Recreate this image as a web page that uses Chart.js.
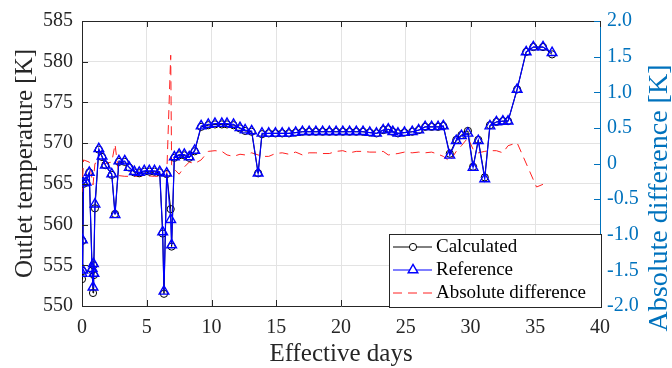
<!DOCTYPE html>
<html>
<head>
<meta charset="utf-8">
<script src="https://cdn.jsdelivr.net/npm/chart.js@4"></script>
<style>
  body { margin: 0; background: #fff; }
</style>
</head>
<body>
<canvas id="myChart" width="672" height="368"></canvas>
<script>
// outlet temperature, calculated vs reference, plus their difference
const days = [0, 0.03, 0.06, 0.12, 0.32, 0.56, 0.78, 0.85, 0.88, 0.92, 1.0, 1.3, 1.55, 1.8, 2.3, 2.55, 2.85, 3.3, 3.65, 4.04,
  4.42, 4.81, 5.2, 5.6, 6.0, 6.23, 6.33, 6.54, 6.85, 6.92, 7.13, 7.5, 7.9, 8.28, 8.7, 9.2, 9.75, 10.27, 10.8, 11.2,
  11.7, 12.2, 12.6, 13.1, 13.6, 13.9, 14.42, 14.94, 15.46, 15.98, 16.5, 17.02, 17.54, 18.06, 18.58, 19.1, 19.62, 20.14, 20.66, 21.18,
  21.7, 22.22, 22.74, 23.26, 23.65, 24.0, 24.4, 24.9, 25.5, 26.0, 26.5, 27.0, 27.5, 27.9, 28.4, 28.9, 29.3, 29.8, 30.2, 30.6,
  31.1, 31.5, 32.0, 32.5, 32.9, 33.6, 34.3, 34.85, 35.6, 36.3];

const calculated = [553.3, 558.0, 554.3, 565.0, 565.2, 566.4, 554.4, 551.6, 555.0, 553.8, 562.0, 569.2, 568.3, 567.3, 566.1, 561.3, 567.7, 567.7, 567.0, 566.4,
  566.3, 566.5, 566.5, 566.5, 566.4, 558.9, 551.5, 566.2, 561.9, 557.3, 568.2, 568.5, 568.5, 568.2, 569.0, 572.0, 572.2, 572.3, 572.3, 572.3,
  572.2, 571.8, 571.5, 571.4, 566.3, 571.1, 571.2, 571.2, 571.2, 571.2, 571.3, 571.4, 571.4, 571.4, 571.4, 571.4, 571.4, 571.4, 571.4, 571.4,
  571.4, 571.3, 571.2, 571.6, 571.7, 571.4, 571.2, 571.3, 571.4, 571.6, 572.0, 572.0, 572.0, 572.1, 568.7, 570.4, 571.0, 571.5, 567.1, 570.4,
  565.8, 572.2, 572.6, 572.7, 572.7, 576.6, 581.2, 581.8, 581.8, 580.9];

const reference = [554.0, 558.1, 554.4, 565.1, 565.2, 566.4, 554.6, 552.3, 555.2, 554.0, 562.5, 569.3, 568.4, 567.3, 566.2, 561.2, 567.8, 567.8, 567.0, 566.5,
  566.4, 566.6, 566.6, 566.6, 566.5, 559.1, 551.8, 566.3, 560.6, 557.5, 568.3, 568.6, 568.6, 568.3, 569.1, 572.1, 572.3, 572.4, 572.4, 572.4,
  572.3, 571.9, 571.6, 571.5, 566.3, 571.2, 571.2, 571.2, 571.2, 571.2, 571.3, 571.4, 571.4, 571.4, 571.4, 571.4, 571.4, 571.4, 571.4, 571.4,
  571.4, 571.3, 571.2, 571.6, 571.7, 571.4, 571.2, 571.3, 571.4, 571.6, 572.0, 572.0, 572.0, 572.1, 568.5, 570.3, 570.9, 571.2, 567.0, 570.3,
  565.6, 572.1, 572.6, 572.7, 572.7, 576.6, 581.2, 581.8, 581.8, 581.1];

const diffDays = [0, 0.12, 0.56, 0.85, 1.0, 1.3, 1.8, 2.3, 2.55, 2.85, 3.3, 4.04, 4.81, 5.6, 6.0, 6.54, 6.85, 6.92, 7.13, 7.5,
  7.9, 8.28, 8.7, 9.2, 9.75, 10.27, 10.8, 11.2, 11.7, 12.2, 12.6, 13.1, 13.6, 13.9, 14.42, 14.94, 15.46, 15.98, 16.5, 17.02,
  17.54, 18.06, 18.58, 19.1, 19.62, 20.14, 20.66, 21.18, 21.7, 22.22, 22.74, 23.26, 23.65, 24.0, 24.4, 24.9, 25.5, 26.0, 26.5, 27.0,
  27.5, 27.9, 28.4, 28.9, 29.3, 29.8, 30.2, 30.6, 31.1, 31.5, 32.0, 32.5, 32.9, 33.6, 35.1, 35.9];

const difference = [-0.4, 0.05, 0.02, -0.3, 0.0, 0.02, 0.0, 0.02, 0.27, -0.17, -0.18, -0.18, -0.17, -0.18, -0.18, -0.18, 1.52, -0.02, -0.08, -0.15,
  -0.05, 0.02, 0.0, 0.05, 0.17, 0.18, 0.17, 0.12, 0.1, 0.13, 0.12, 0.15, 0.12, 0.1, 0.1, 0.14, 0.15, 0.13, 0.16, 0.12,
  0.15, 0.15, 0.14, 0.14, 0.17, 0.18, 0.15, 0.17, 0.17, 0.16, 0.16, 0.17, 0.12, 0.13, 0.14, 0.16, 0.15, 0.16, 0.15, 0.16,
  0.13, 0.1, 0.03, 0.17, 0.25, 0.36, 0.2, 0.15, 0.17, 0.18, 0.18, 0.15, 0.25, 0.29, -0.33, -0.27];

const xTicks = [0, 5, 10, 15, 20, 25, 30, 35, 40];
const leftTicks = [550, 555, 560, 565, 570, 575, 580, 585];
const rightTicks = [-2, -1.5, -1, -0.5, 0, 0.5, 1, 1.5, 2];

const serif = "'Liberation Serif', 'Times New Roman', serif";
const textColor = "#262626";
const rightColor = "rgb(0,114,189)";

const toPoints = (xs, ys) => xs.map((x, i) => ({ x: x, y: ys[i] }));

// ticks pointing inward, top border, right axis title, legend box
const decorations = {
  id: "decorations",
  afterDraw(chart) {
    const ctx = chart.ctx;
    const a = chart.chartArea;
    const x = chart.scales.x, y = chart.scales.y, y1 = chart.scales.y1;
    ctx.save();
    ctx.lineWidth = 1;
    ctx.strokeStyle = textColor;
    ctx.beginPath();
    ctx.moveTo(a.left, a.top + 0.5);
    ctx.lineTo(a.right, a.top + 0.5);
    xTicks.forEach((v) => {
      const px = Math.round(x.getPixelForValue(v)) + 0.5;
      ctx.moveTo(px, a.bottom);
      ctx.lineTo(px, a.bottom - 6);
      ctx.moveTo(px, a.top);
      ctx.lineTo(px, a.top + 6);
    });
    leftTicks.forEach((v) => {
      const py = Math.round(y.getPixelForValue(v)) + 0.5;
      ctx.moveTo(a.left, py);
      ctx.lineTo(a.left + 6, py);
    });
    ctx.stroke();
    ctx.strokeStyle = rightColor;
    ctx.beginPath();
    rightTicks.forEach((v) => {
      const py = Math.round(y1.getPixelForValue(v)) + 0.5;
      ctx.moveTo(a.right, py);
      ctx.lineTo(a.right - 6, py);
    });
    ctx.stroke();

    // right title, reading bottom to top
    ctx.fillStyle = rightColor;
    ctx.font = "28px " + serif;
    ctx.textAlign = "center";
    ctx.textBaseline = "middle";
    ctx.translate(660, 198);
    ctx.rotate(-Math.PI / 2);
    ctx.fillText("Absolute difference [K]", 0, 0);
    ctx.restore();

    // legend
    const bx = 389, by = 234, bw = 212, bh = 73;
    ctx.save();
    ctx.fillStyle = "#fff";
    ctx.fillRect(bx, by, bw, bh);
    ctx.strokeStyle = textColor;
    ctx.lineWidth = 1;
    ctx.strokeRect(bx + 0.5, by + 0.5, bw, bh);
    ctx.font = "19px " + serif;
    ctx.textBaseline = "middle";
    ctx.textAlign = "left";
    chart.data.datasets.forEach((ds, i) => {
      const cy = by + 13 + i * 23;
      ctx.strokeStyle = ds.borderColor;
      ctx.lineWidth = ds.borderWidth;
      ctx.setLineDash(ds.borderDash || []);
      ctx.beginPath();
      ctx.moveTo(bx + 4, cy);
      ctx.lineTo(bx + 43, cy);
      ctx.stroke();
      ctx.setLineDash([]);
      if (ds.pointRadius > 0) {
        ctx.lineWidth = ds.pointBorderWidth;
        ctx.strokeStyle = ds.pointBorderColor;
        ctx.fillStyle = "#fff";
        Chart.helpers.drawPoint(ctx, {
          pointStyle: ds.pointStyle,
          radius: ds.pointRadius,
          rotation: 0,
          borderWidth: ds.pointBorderWidth
        }, bx + 24, cy);
      }
      ctx.fillStyle = "#000";
      ctx.fillText(ds.label, bx + 47, cy);
    });
    ctx.restore();
  }
};

new Chart(document.getElementById("myChart"), {
  type: "scatter",
  data: {
    datasets: [
      {
        label: "Calculated",
        data: toPoints(days, calculated),
        showLine: true,
        borderColor: "#000",
        borderWidth: 1,
        pointStyle: "circle",
        pointRadius: 3.6,
        pointBorderColor: "#000",
        pointBorderWidth: 1,
        pointBackgroundColor: "rgba(0,0,0,0)",
        yAxisID: "y",
        order: 2
      },
      {
        label: "Reference",
        data: toPoints(days, reference),
        showLine: true,
        borderColor: "#0000ff",
        borderWidth: 1.2,
        pointStyle: "triangle",
        pointRadius: 5.6,
        pointBorderColor: "#0000ff",
        pointBorderWidth: 1.4,
        pointBackgroundColor: "rgba(0,0,0,0)",
        yAxisID: "y",
        order: 1
      },
      {
        label: "Absolute difference",
        data: toPoints(diffDays, difference),
        showLine: true,
        borderColor: "#ff2020",
        borderWidth: 1,
        borderDash: [9, 6],
        pointRadius: 0,
        pointBorderWidth: 0,
        yAxisID: "y1",
        order: 3
      }
    ]
  },
  options: {
    responsive: false,
    animation: false,
    devicePixelRatio: 1,
    layout: { padding: { top: 21, left: 0, right: 0, bottom: 0 } },
    plugins: { legend: { display: false }, tooltip: { enabled: false } },
    scales: {
      x: {
        type: "linear",
        min: 0,
        max: 40,
        afterFit: (s) => { s.height = 62; },
        afterBuildTicks: (s) => { s.ticks = xTicks.map((v) => ({ value: v })); },
        ticks: { color: textColor, font: { family: serif, size: 20 }, padding: 10, maxRotation: 0 },
        grid: {
          color: (c) => (c.tick && (c.tick.value === 0 || c.tick.value === 40) ? "rgba(0,0,0,0)" : "#e3e3e3"),
          drawTicks: false
        },
        border: { color: textColor, width: 1 },
        title: { display: true, text: "Effective days", color: textColor, font: { family: serif, size: 25, lineHeight: 1.1 }, padding: { top: 0, bottom: 0 } }
      },
      y: {
        position: "left",
        min: 550,
        max: 585,
        afterFit: (s) => { s.width = 82; },
        afterBuildTicks: (s) => { s.ticks = leftTicks.map((v) => ({ value: v })); },
        ticks: { color: textColor, font: { family: serif, size: 20 }, padding: 9 },
        grid: {
          color: (c) => (c.tick && (c.tick.value === 550 || c.tick.value === 585) ? "rgba(0,0,0,0)" : "#e3e3e3"),
          drawTicks: false
        },
        border: { color: textColor, width: 1 },
        title: { display: true, text: "Outlet temperature [K]", color: textColor, font: { family: serif, size: 25, lineHeight: 1.1 }, padding: { top: 12, bottom: 0 } }
      },
      y1: {
        position: "right",
        min: -2,
        max: 2,
        afterFit: (s) => { s.width = 72; },
        afterBuildTicks: (s) => { s.ticks = rightTicks.map((v) => ({ value: v })); },
        ticks: {
          color: rightColor,
          font: { family: serif, size: 20 },
          padding: 7,
          callback: (v) => (v === 0 ? "0" : v.toFixed(1))
        },
        grid: { display: false, drawTicks: false },
        border: { color: rightColor, width: 1 }
      }
    }
  },
  plugins: [decorations]
});
</script>
</body>
</html>
